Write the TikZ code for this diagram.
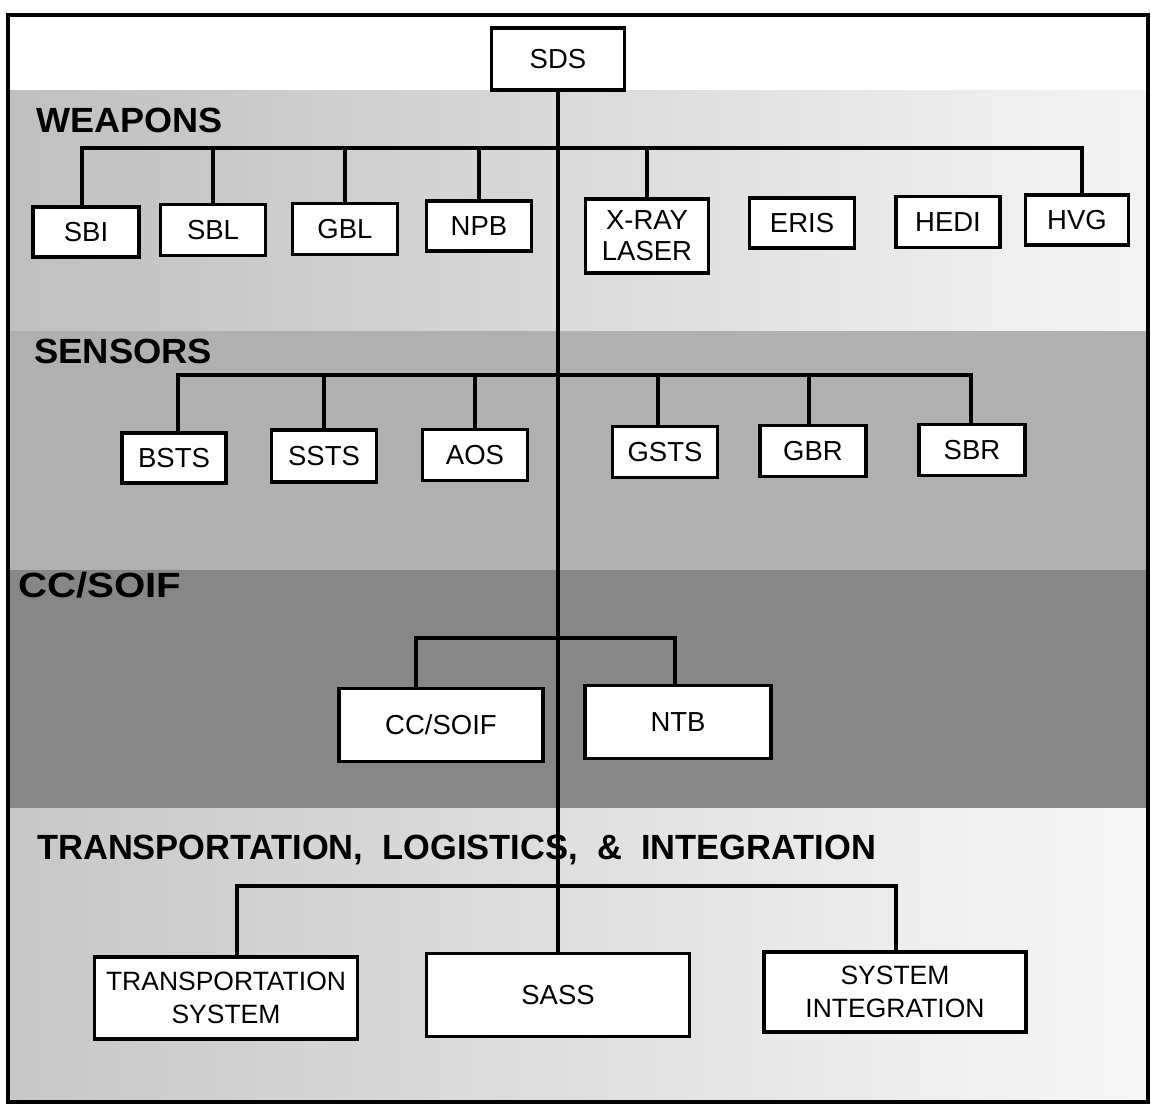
\documentclass[tikz,border=0pt]{standalone}
\usepackage{fontspec}
\setmainfont{Liberation Sans}
\usepackage{graphicx}
\begin{document}
\begin{tikzpicture}[x=1pt,y=-1pt,
  box/.style={draw=black,line width=3.8pt,fill=white,inner sep=0pt,align=center,
    font=\fontsize{27.5}{31}\selectfont},
  band/.style={font=\fontsize{35}{38}\selectfont\bfseries,anchor=base west,inner sep=0pt},
  conn/.style={line width=3.2pt,line cap=rect}]
\useasboundingbox (0,0) rectangle (1151,1109);
% bands
\fill[white] (8,15) rectangle (1148,90);
\shade[left color=black!25,middle color=black!14,right color=black!4] (8,90) rectangle (1148,331);
\fill[black!31] (8,331) rectangle (1148,570);
\fill[black!47] (8,570) rectangle (1148,808);
\shade[left color=black!22,middle color=black!12,right color=black!3] (8,808) rectangle (1148,1102);
% frame
\draw[line width=3.4pt] (8,15) rectangle (1148,1102);
% band labels
\node[band] (lw) at (36,132) {\scalebox{1.03}[1]{WEAPONS}};
\node[band] (ls) at (34,363) {\scalebox{1.04}[1]{SENSORS}};
\node[band] (lc) at (18,597) {\scalebox{1.15}[1]{CC/SOIF}};
\node[band] (lt) at (37,859) {\scalebox{0.985}[1]{TRANSPORTATION,\ \ LOGISTICS,\ \ \&\ \ INTEGRATION}};
% coordinates for bars
\coordinate (wL) at (82,148);
\coordinate (wR) at (1082,148);
\coordinate (sL) at (178,375);
\coordinate (sR) at (971,375);
\coordinate (cL) at (416,638);
\coordinate (cR) at (675,638);
\coordinate (tL) at (237,886);
\coordinate (tR) at (896,886);
% nodes
\node[box,minimum width=133,minimum height=62] (sds) at (558,59) {SDS};
\node[box,minimum width=106,minimum height=50] (sbi) at (86,232) {SBI};
\node[box,minimum width=105,minimum height=51] (sbl) at (213,230) {SBL};
\node[box,minimum width=105,minimum height=51] (gbl) at (345,229) {GBL};
\node[box,minimum width=105,minimum height=50] (npb) at (479,226) {NPB};
\node[box,minimum width=123,minimum height=74] (xray) at (647,236) {X-RAY\\LASER};
\node[box,minimum width=105,minimum height=50] (eris) at (802,223) {ERIS};
\node[box,minimum width=104,minimum height=51] (hedi) at (948,222) {HEDI};
\node[box,minimum width=103,minimum height=50] (hvg) at (1077,220) {HVG};
\node[box,minimum width=104,minimum height=50] (bsts) at (174,458) {BSTS};
\node[box,minimum width=105,minimum height=52] (ssts) at (324,456) {SSTS};
\node[box,minimum width=105,minimum height=51] (aos) at (475,455) {AOS};
\node[box,minimum width=105,minimum height=51] (gsts) at (665,452) {GSTS};
\node[box,minimum width=106,minimum height=51] (gbr) at (813,451) {GBR};
\node[box,minimum width=106,minimum height=51] (sbr) at (972,450) {SBR};
\node[box,minimum width=204,minimum height=73] (ccsoif) at (441,725) {CC/SOIF};
\node[box,minimum width=186,minimum height=73] (ntb) at (678,722) {NTB};
\node[box,minimum width=263,minimum height=82,font=\fontsize{26.5}{33}\selectfont] (trans) at (226,998) {TRANSPORTATION\\SYSTEM};
\node[box,minimum width=263,minimum height=83] (sass) at (558,995) {SASS};
\node[box,minimum width=262,minimum height=80,font=\fontsize{26.5}{33}\selectfont] (sysint) at (895,992) {SYSTEM\\INTEGRATION};
% main trunk
\draw[conn,line cap=butt] (sds.south) -- (sass.north);
% weapons
\draw[conn] (wL) -- (wR);
\draw[conn,line cap=butt] (wL) -- (wL |- sbi.north);
\draw[conn,line cap=butt] (sbl.north |- wL) -- (sbl.north);
\draw[conn,line cap=butt] (gbl.north |- wL) -- (gbl.north);
\draw[conn,line cap=butt] (npb.north |- wL) -- (npb.north);
\draw[conn,line cap=butt] (xray.north |- wL) -- (xray.north);
\draw[conn,line cap=butt] (wR) -- (wR |- hvg.north);
% sensors
\draw[conn] (sL) -- (sR);
\draw[conn,line cap=butt] (sL) -- (sL |- bsts.north);
\draw[conn,line cap=butt] (ssts.north |- sL) -- (ssts.north);
\draw[conn,line cap=butt] (aos.north |- sL) -- (aos.north);
\draw[conn,line cap=butt] (658,375) -- (658,0 |- gsts.north);
\draw[conn,line cap=butt] (809,375) -- (809,0 |- gbr.north);
\draw[conn,line cap=butt] (sR) -- (sR |- sbr.north);
% cc/soif
\draw[conn] (cL) -- (cR);
\draw[conn,line cap=butt] (cL) -- (cL |- ccsoif.north);
\draw[conn,line cap=butt] (cR) -- (cR |- ntb.north);
% transport
\draw[conn] (tL) -- (tR);
\draw[conn,line cap=butt] (tL) -- (tL |- trans.north);
\draw[conn,line cap=butt] (tR) -- (tR |- sysint.north);
\end{tikzpicture}
\end{document}
